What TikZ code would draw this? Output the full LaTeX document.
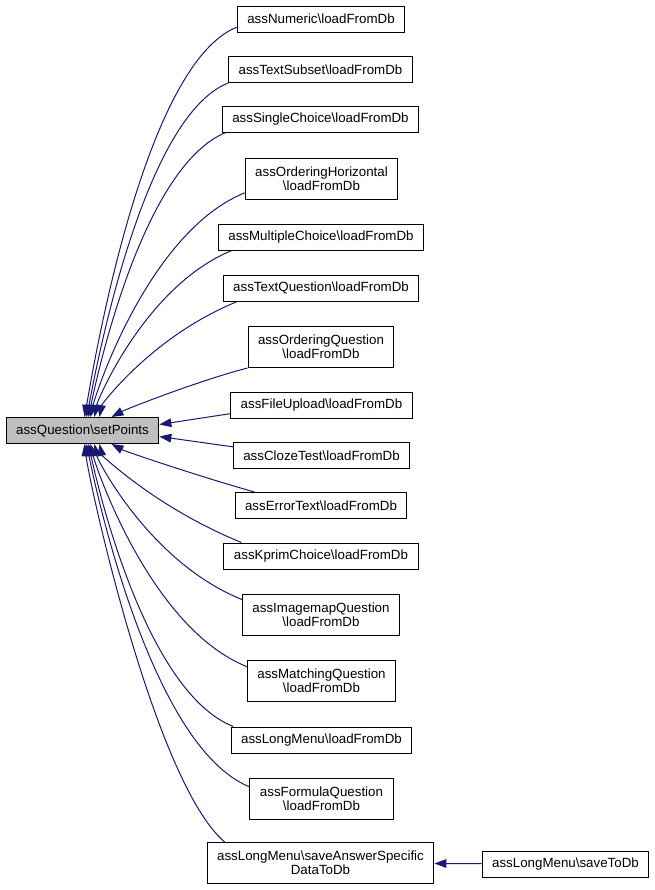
\documentclass[tikz,border=0pt]{standalone}
\usepackage{fontspec}
\setmainfont{Liberation Sans}
\usetikzlibrary{arrows.meta}
\definecolor{edgeblue}{RGB}{25,25,112}
\definecolor{maingray}{RGB}{191,191,191}
\tikzset{
  fnbox/.style={draw=black, line width=0.75pt, fill=white, inner xsep=7.5pt, inner ysep=2pt,
    minimum height=19.5pt, align=center, font=\fontsize{10}{10.3}\selectfont},
  fnboxtwo/.style={fnbox, minimum height=30.75pt},
  calls/.style={draw=edgeblue, line width=0.75pt, -{Triangle[length=9pt,width=6.5pt]}}
}
\begin{document}
\begin{tikzpicture}[x=0.75pt,y=-0.75pt]
   \useasboundingbox (0,0) rectangle (655,890);
   % the called function
   \node[fnbox,fill=maingray] (main) at (82.5,430.5) {assQuestion\textbackslash setPoints};
   % callers
   \node[fnbox] (numeric) at (321,19) {assNumeric\textbackslash loadFromDb};
   \node[fnbox] (textsubset) at (320.5,69.5) {assTextSubset\textbackslash loadFromDb};
   \node[fnbox] (singlechoice) at (320.5,119) {assSingleChoice\textbackslash loadFromDb};
   \node[fnboxtwo] (orderhoriz) at (321.5,178.5) {assOrderingHorizontal\\\textbackslash loadFromDb};
   \node[fnbox] (multichoice) at (321,237) {assMultipleChoice\textbackslash loadFromDb};
   \node[fnbox] (textquestion) at (321,288) {assTextQuestion\textbackslash loadFromDb};
   \node[fnboxtwo] (orderquestion) at (321,347) {assOrderingQuestion\\\textbackslash loadFromDb};
   \node[fnbox] (fileupload) at (321.5,405) {assFileUpload\textbackslash loadFromDb};
   \node[fnbox] (clozetest) at (321.5,455.5) {assClozeTest\textbackslash loadFromDb};
   \node[fnbox] (errortext) at (321,505.5) {assErrorText\textbackslash loadFromDb};
   \node[fnbox] (kprim) at (321,556) {assKprimChoice\textbackslash loadFromDb};
   \node[fnboxtwo] (imagemap) at (321,614.5) {assImagemapQuestion\\\textbackslash loadFromDb};
   \node[fnboxtwo] (matching) at (321.5,681) {assMatchingQuestion\\\textbackslash loadFromDb};
   \node[fnbox] (longmenu) at (321.5,740) {assLongMenu\textbackslash loadFromDb};
   \node[fnboxtwo] (formula) at (321.5,798.5) {assFormulaQuestion\\\textbackslash loadFromDb};
   \node[fnboxtwo] (saveanswer) at (320.5,863) {assLongMenu\textbackslash saveAnswerSpecific\\DataToDb};
   \node[fnbox] (savetodb) at (565.5,864) {assLongMenu\textbackslash saveToDb};
   % calls from above
   \draw[calls] ([yshift=4pt]numeric.south west) .. controls +(-95,38) and +(7,-39) .. ([xshift=1.5pt]main.north);
   \draw[calls] (textsubset.south west) .. controls +(-88,35) and +(7,-34) .. ([xshift=3pt]main.north);
   \draw[calls] ([xshift=3pt]singlechoice.south west) .. controls +(-86,35) and +(6,-29) .. ([xshift=4.5pt]main.north);
   \draw[calls] ([yshift=5pt]orderhoriz.south west) .. controls +(-96,39) and +(5,-23) .. ([xshift=6pt]main.north);
   \draw[calls] ([xshift=10.5pt]multichoice.south west) .. controls +(-86,35) and +(3,-17) .. ([xshift=9pt]main.north);
   \draw[calls] ([xshift=11pt]textquestion.south west) .. controls +(-86,35) and +(2,-12) .. ([xshift=12.75pt]main.north);
   \draw[calls] (orderquestion.south west) .. controls +(-50,13) and +(15,-8) .. ([xshift=21.75pt]main.north);
   % calls from the side
   \draw[calls] ([yshift=-6.5pt]fileupload.west) -- ([yshift=4.5pt]main.east);
   \draw[calls] ([yshift=6.5pt]clozetest.west) -- ([yshift=-4.5pt]main.east);
   % calls from below
   \draw[calls] ([xshift=15pt]errortext.north west) .. controls +(-50,-14) and +(15,8) .. ([xshift=21.75pt]main.south);
   \draw[calls] ([xshift=13.5pt]kprim.north west) .. controls +(-88,-36) and +(2,10) .. ([xshift=12.75pt]main.south);
   \draw[calls] ([yshift=-4.5pt]imagemap.north west) .. controls +(-92,-37) and +(3,16) .. ([xshift=9pt]main.south);
   \draw[calls] ([yshift=-5pt]matching.north west) .. controls +(-97,-39) and +(5,22) .. ([xshift=6pt]main.south);
   \draw[calls] ([xshift=2pt]longmenu.north west) .. controls +(-91,-36) and +(6,28) .. ([xshift=4.5pt]main.south);
   \draw[calls] ([yshift=-7pt]formula.north west) .. controls +(-101,-41) and +(7,34) .. ([xshift=3pt]main.south);
   \draw[calls] ([xshift=13.5pt]saveanswer.north west) .. controls +(-70,-60) and +(5,40) .. ([xshift=1.5pt]main.south);
   \draw[calls] (savetodb) -- (saveanswer);
  \end{tikzpicture}
\end{document}
